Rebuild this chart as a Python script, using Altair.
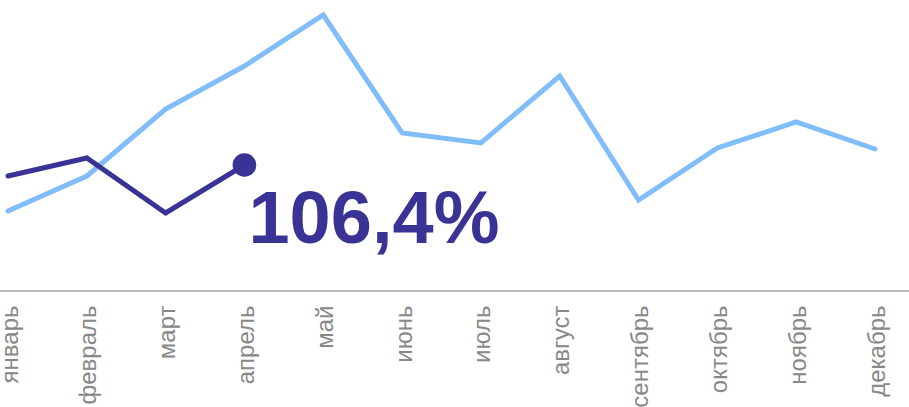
import altair as alt
import pandas as pd

months = ["январь", "февраль", "март", "апрель", "май", "июнь", "июль",
          "август", "сентябрь", "октябрь", "ноябрь", "декабрь"]
prev_year = [101.8, 105.3, 112.0, 116.3, 121.4, 109.6, 108.6, 115.3, 102.9, 108.1, 110.7, 108.0]
curr_year = [105.3, 107.1, 101.6, 106.4]
label_text = "106,4%"

df_prev = pd.DataFrame({"month": months, "value": prev_year})
df_curr = pd.DataFrame({"month": months[:len(curr_year)], "value": curr_year})
df_last = df_curr.tail(1).assign(label=label_text)

LIGHT = "#80bdfa"
DARK = "#383394"

x_enc = alt.X("month:N", sort=months,
              scale=alt.Scale(type="point", padding=0, domain=months),
              axis=alt.Axis(title=None, labelAngle=-90, labelFontSize=24,
                            labelFont="Liberation Sans", labelColor="#888888",
                            ticks=False, domain=False, grid=False, labelPadding=15,
                            labelOffset=2))
y_scale = alt.Scale(domain=[93.9, 122.9], zero=False, nice=False)
y_enc = alt.Y("value:Q", scale=y_scale, axis=None)

base_line = alt.Chart(df_prev).mark_line(color=LIGHT, strokeWidth=5, strokeCap="round", strokeJoin="miter").encode(x=x_enc, y=y_enc)
curr_line = alt.Chart(df_curr).mark_line(color=DARK, strokeWidth=5, strokeCap="round", strokeJoin="miter").encode(x=x_enc, y=y_enc)
dot = alt.Chart(df_last).mark_circle(color=DARK, size=560, opacity=1).encode(x=x_enc, y=y_enc)
text = alt.Chart(df_last).mark_text(color=DARK, fontSize=74, fontWeight="bold", font="Liberation Sans",
                                    align="left", baseline="alphabetic", dx=4, dy=78).encode(
    x=x_enc, y=y_enc, text="label:N")
axis_rule = alt.Chart(df_last).mark_rule(color="#bdbdbd", strokeWidth=2).encode(
    x=alt.value(-8), x2=alt.value(901), y=alt.value(291))

chart = alt.layer(axis_rule, base_line, curr_line, dot, text).properties(
    width=867, height=290,
    autosize=alt.AutoSizeParams(type="none"),
    padding={"left": 8, "top": 0, "right": 34, "bottom": 117},
).configure_view(stroke=None)

chart.save("out.html", embed_options={"renderer": "svg", "actions": False})
